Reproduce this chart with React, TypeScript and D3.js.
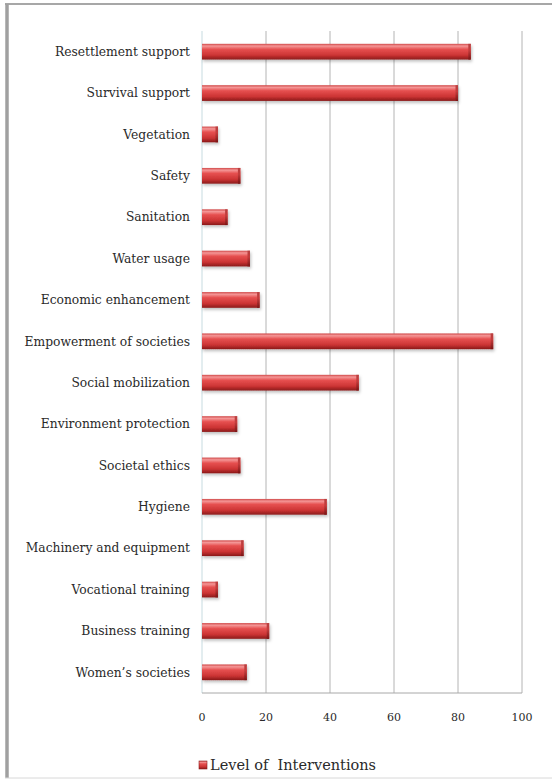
import React from "react";
import * as d3 from "d3";

const categories: string[] = [
  "Resettlement support",
  "Survival support",
  "Vegetation",
  "Safety",
  "Sanitation",
  "Water usage",
  "Economic enhancement",
  "Empowerment of societies",
  "Social mobilization",
  "Environment protection",
  "Societal ethics",
  "Hygiene",
  "Machinery and equipment",
  "Vocational training",
  "Business training",
  "Women\u2019s societies",
];
const values: number[] = [84, 80, 5, 12, 8, 15, 18, 91, 49, 11, 12, 39, 13, 5, 21, 14];
const xTicks: number[] = [0, 20, 40, 60, 80, 100];
const seriesName = "Level of  Interventions";

const W = 552;
const H = 782;
const plot = { left: 202, right: 522, top: 31, bottom: 693 };
const font = "'DejaVu Serif', 'Liberation Serif', serif";

export default function App() {
  const x = d3.scaleLinear().domain([0, 100]).range([plot.left, plot.right]);
  const y = d3
    .scaleBand<string>()
    .domain(categories)
    .range([plot.top, plot.bottom])
    .paddingInner(0.62)
    .paddingOuter(0.31);
  const bh = y.bandwidth();

  return (
    <svg
      width={W}
      height={H}
      style={{ position: "absolute", left: 0, top: 0, background: "#fff" }}
    >
      <defs>
        <linearGradient id="barGrad" x1="0" y1="0" x2="0" y2="1">
          <stop offset="0%" stopColor="#d04848" />
          <stop offset="14%" stopColor="#f49696" />
          <stop offset="35%" stopColor="#e65050" />
          <stop offset="72%" stopColor="#cc3434" />
          <stop offset="100%" stopColor="#8a1a1a" />
        </linearGradient>
        <linearGradient id="capGrad" x1="0" y1="0" x2="0" y2="1">
          <stop offset="0%" stopColor="#b84040" />
          <stop offset="40%" stopColor="#c43c3c" />
          <stop offset="100%" stopColor="#7a1616" />
        </linearGradient>
        <filter id="shadow" x="-10%" y="-30%" width="130%" height="200%">
          <feDropShadow dx="1" dy="2" stdDeviation="1.5" floodColor="#000" floodOpacity="0.25" />
        </filter>
      </defs>

      {/* outer frame */}
      <rect x={0} y={0} width={W} height={H} fill="#fff" />
      <line x1={5} x2={W} y1={4} y2={4} stroke="#8a8a8a" strokeWidth={1.5} />
      <line x1={7} x2={7} y1={4} y2={778} stroke="#a0a0a0" strokeWidth={3.5} />
      <line x1={5} x2={W} y1={778} y2={778} stroke="#d8d8d8" strokeWidth={1} />

      {/* gridlines */}
      {xTicks.slice(1).map((t) => (
        <line
          key={"g" + t}
          x1={x(t)}
          x2={x(t)}
          y1={plot.top}
          y2={plot.bottom}
          stroke="#b4b4b4"
          strokeWidth={1}
        />
      ))}
      {/* category axis */}
      <line x1={x(0)} x2={x(0)} y1={plot.top} y2={plot.bottom} stroke="#c7dbe0" strokeWidth={1} />
      {/* value axis */}
      <line x1={x(0)} x2={x(100)} y1={plot.bottom} y2={plot.bottom} stroke="#a8a8a8" strokeWidth={1} />

      {/* bars */}
      {categories.map((c, i) => {
        const y0 = y(c)!;
        const x1 = x(values[i]);
        return (
          <g key={c} filter="url(#shadow)">
            <rect x={x(0)} y={y0} width={x1 - x(0)} height={bh} fill="url(#barGrad)" />
            <rect x={x1 - 2.5} y={y0} width={2.5} height={bh} fill="url(#capGrad)" />
          </g>
        );
      })}

      {/* category labels */}
      {categories.map((c) => (
        <text
          key={"l" + c}
          x={190}
          y={y(c)! + bh / 2}
          dy="0.35em"
          textAnchor="end"
          fontFamily={font}
          fontSize={12.3}
          fill="#2a2a2a"
        >
          {c}
        </text>
      ))}

      {/* tick labels */}
      {xTicks.map((t) => (
        <text
          key={"t" + t}
          x={x(t)}
          y={717}
          dy="0.35em"
          textAnchor="middle"
          fontFamily={font}
          fontSize={11}
          fill="#2a2a2a"
        >
          {t}
        </text>
      ))}

      {/* legend */}
      <rect x={199} y={761} width={8} height={8} fill="url(#barGrad)" stroke="#8e1c1c" strokeWidth={0.6} />
      <text x={210} y={765} dy="0.35em" fontFamily={font} fontSize={14.5} fill="#2a2a2a" style={{ whiteSpace: "pre" }}>
        {seriesName}
      </text>
    </svg>
  );
}
